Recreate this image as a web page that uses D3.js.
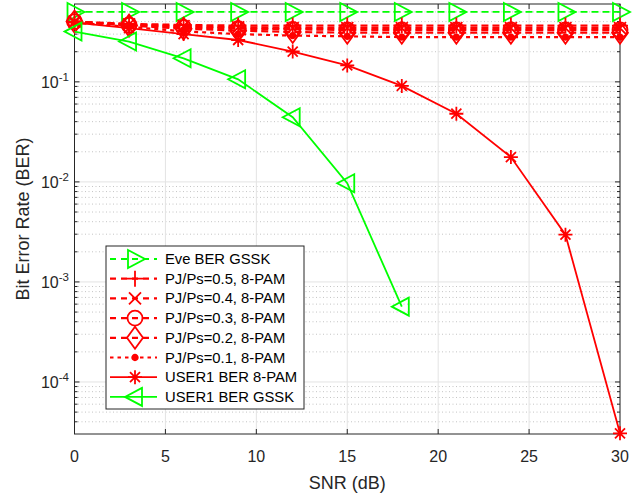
<!DOCTYPE html>
<html><head><meta charset="utf-8">
<script src="https://cdn.jsdelivr.net/npm/d3@7"></script>
<style>html,body{margin:0;padding:0;background:#fff;}svg{display:block;font-family:"Liberation Sans",Arial,sans-serif;}</style>
</head><body>
<script>
// ---- data ----
const snr = [0,3,6,9,12,15,18,21,24,27,30];
const snrGssk = [0,3,6,9,12,15,18];
const eveGssk = [0.5,0.5,0.5,0.5,0.5,0.5,0.5,0.5,0.5,0.5,0.5];
const pj05 = [0.40,0.38,0.37,0.365,0.365,0.365,0.365,0.365,0.365,0.365,0.365];
const pj04 = [0.40,0.375,0.36,0.35,0.345,0.345,0.345,0.345,0.345,0.345,0.345];
const pj03 = [0.40,0.37,0.35,0.34,0.335,0.33,0.33,0.33,0.33,0.33,0.33];
const pj02 = [0.40,0.365,0.34,0.325,0.315,0.31,0.31,0.31,0.31,0.31,0.31];
const pj01 = [0.39,0.355,0.32,0.30,0.29,0.285,0.28,0.28,0.28,0.28,0.28];
const user1Pam = [0.39,0.345,0.30,0.262,0.201,0.146,0.091,0.048,0.0177,0.00297,3.07e-5];
const user1Gssk = [0.318,0.253,0.172,0.106,0.0443,0.0097,5.66e-4];
const xTicks = [0,5,10,15,20,25,30];
const yTickExp = [-4,-3,-2,-1];
const legendLabels = ["Eve BER GSSK","PJ/Ps=0.5, 8-PAM","PJ/Ps=0.4, 8-PAM","PJ/Ps=0.3, 8-PAM","PJ/Ps=0.2, 8-PAM","PJ/Ps=0.1, 8-PAM","USER1 BER 8-PAM","USER1 BER GSSK"];

const RED="#ff0000", GREEN="#00ff00", AX="#262626";
const W=632,H=496;
const L=74.5,R=620,T=4,B=434;
const x=d3.scaleLinear().domain([0,30]).range([L,R]);
const y=d3.scaleLog().domain([3.02e-5,0.6]).range([B,T]);

const svg=d3.select("body").append("svg").attr("width",W).attr("height",H);

// grid
const g=svg.append("g");
const [ymin,ymax]=y.domain();
const minors=[];
for(let e=-5;e<=0;e++)for(let m=2;m<=9;m++){const v=m*Math.pow(10,e);if(v>ymin&&v<ymax)minors.push(v);}
g.selectAll(".mg").data(minors).join("line").attr("x1",L).attr("x2",R).attr("y1",d=>y(d)).attr("y2",d=>y(d))
 .attr("stroke","#c4c4c4").attr("stroke-width",1).attr("stroke-dasharray","1,2.5");
g.selectAll(".xg").data(xTicks).join("line").attr("x1",d=>x(d)).attr("x2",d=>x(d)).attr("y1",T).attr("y2",B)
 .attr("stroke","#e3e3e3").attr("stroke-width",1);
g.selectAll(".yg").data(yTickExp).join("line").attr("x1",L).attr("x2",R).attr("y1",d=>y(Math.pow(10,d))).attr("y2",d=>y(Math.pow(10,d)))
 .attr("stroke","#e3e3e3").attr("stroke-width",1);

// axes box + ticks
const ax=svg.append("g").attr("stroke",AX).attr("stroke-width",1);
ax.append("rect").attr("x",L).attr("y",T).attr("width",R-L).attr("height",B-T).attr("fill","none");
xTicks.forEach(t=>{
  ax.append("line").attr("x1",x(t)).attr("x2",x(t)).attr("y1",B).attr("y2",B-5);
  ax.append("line").attr("x1",x(t)).attr("x2",x(t)).attr("y1",T).attr("y2",T+5);
});
yTickExp.forEach(e=>{const yy=y(Math.pow(10,e));
  ax.append("line").attr("x1",L).attr("x2",L+5).attr("y1",yy).attr("y2",yy);
  ax.append("line").attr("x1",R).attr("x2",R-5).attr("y1",yy).attr("y2",yy);
});
minors.forEach(v=>{const yy=y(v);
  ax.append("line").attr("x1",L).attr("x2",L+3).attr("y1",yy).attr("y2",yy);
  ax.append("line").attr("x1",R).attr("x2",R-3).attr("y1",yy).attr("y2",yy);
});

// tick labels
svg.append("g").selectAll("text").data(xTicks).join("text")
 .attr("x",d=>x(d)).attr("y",462).attr("text-anchor","middle").attr("font-size",16).attr("fill",AX).text(d=>d);
const yl=svg.append("g").selectAll("text").data(yTickExp).join("text")
 .attr("x",69).attr("y",d=>y(Math.pow(10,d))+6).attr("text-anchor","end").attr("font-size",16).attr("fill",AX);
yl.append("tspan").text("10");
yl.append("tspan").attr("dy",-7).attr("font-size",11.5).text(d=>d);

svg.append("text").attr("x",(L+R)/2).attr("y",489).attr("text-anchor","middle").attr("font-size",18).attr("fill",AX).text("SNR (dB)");
svg.append("text").attr("transform",`translate(29,${(T+B)/2}) rotate(-90)`).attr("text-anchor","middle").attr("font-size",18).attr("fill",AX).text("Bit Error Rate (BER)");

// markers
function marker(sel,type,cx,cy,color){
  const s=sel.append("g").attr("transform",`translate(${cx},${cy})`).attr("fill","none").attr("stroke",color).attr("stroke-width",1.8);
  if(type==="+"){s.append("path").attr("d","M-8,0H8M0,-8V8");}
  else if(type==="x"){s.append("path").attr("d","M-6,-6L6,6M-6,6L6,-6");}
  else if(type==="o"){s.append("circle").attr("r",7.5);}
  else if(type==="d"){s.append("path").attr("d","M0,-11L8,0L0,11L-8,0Z");}
  else if(type==="."){s.append("circle").attr("r",2.8).attr("fill",color);}
  else if(type==="*"){s.append("path").attr("d","M-7,0H7M0,-7V7M-5,-5L5,5M-5,5L5,-5");}
  else if(type===">"){s.append("path").attr("d","M-7,-9L10,0L-7,9Z");}
  else if(type==="<"){s.append("path").attr("d","M7,-9L-10,0L7,9Z");}
}

const series=[
 {xs:snr,ys:eveGssk,color:GREEN,dash:"7,4",w:1.8,m:">"},
 {xs:snr,ys:pj05,color:RED,dash:"7,4",w:2.2,m:"+"},
 {xs:snr,ys:pj04,color:RED,dash:"7,4",w:2.2,m:"x"},
 {xs:snr,ys:pj03,color:RED,dash:"7,4",w:2.2,m:"o"},
 {xs:snr,ys:pj02,color:RED,dash:"7,4",w:2.2,m:"d"},
 {xs:snr,ys:pj01,color:RED,dash:"4,4",w:2.2,m:"."},
 {xs:snr,ys:user1Pam,color:RED,dash:null,w:1.8,m:"*"},
 {xs:snrGssk,ys:user1Gssk,color:GREEN,dash:null,w:1.8,m:"<"}
];
const line=d3.line().x(d=>x(d[0])).y(d=>y(d[1]));
const pg=svg.append("g");
series.forEach(s=>{
  const pts=s.xs.map((v,i)=>[v,s.ys[i]]);
  pg.append("path").datum(pts).attr("d",line).attr("fill","none").attr("stroke",s.color).attr("stroke-width",s.w)
    .attr("stroke-dasharray",s.dash);
  pts.forEach(p=>marker(pg,s.m,x(p[0]),y(p[1]),s.color));
});

// legend
const lx=106,ly=246,lw=198,lh=163;
const lg=svg.append("g");
lg.append("rect").attr("x",lx).attr("y",ly).attr("width",lw).attr("height",lh).attr("fill","#fff").attr("stroke",AX).attr("stroke-width",1);
series.forEach((s,i)=>{
  const yy=259+i*19.7;
  lg.append("line").attr("x1",110).attr("x2",157).attr("y1",yy).attr("y2",yy).attr("stroke",s.color).attr("stroke-width",s.w)
    .attr("stroke-dasharray",s.dash?(s.m==="."?"3.5,4":"6,5"):null);
  marker(lg,s.m,135,yy,s.color);
  lg.append("text").attr("x",165).attr("y",yy+5).attr("font-size",14.8).attr("fill","#000").text(legendLabels[i]);
});
</script>
</body></html>
